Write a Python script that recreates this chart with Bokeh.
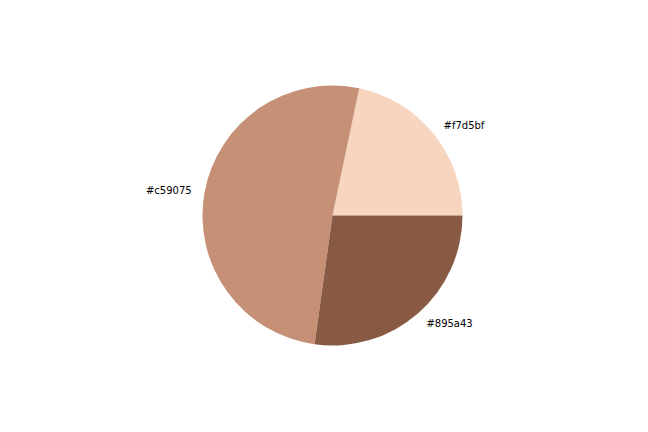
import numpy as np
from bokeh.plotting import figure
from bokeh.models import ColumnDataSource
from bokeh.core.properties import value
from bokeh.embed import file_html
from bokeh.resources import INLINE

labels = ["#f7d5bf", "#c59075", "#895a43"]
values = [21.7, 51.1, 27.2]
colors = ["#f7d5bf", "#c59075", "#895a43"]

W, H = 648, 432
cx_px, cy_px, r_px = 332, 215, 130

vals = np.array(values, dtype=float)
frac = vals / vals.sum()
ends = np.cumsum(frac) * 2 * np.pi
starts = np.concatenate([[0.0], ends[:-1]])
mids = (starts + ends) / 2
lx = 1.1 * np.cos(mids)
ly = 1.1 * np.sin(mids)
align = ["left" if x >= 0 else "right" for x in lx]

src = ColumnDataSource(dict(start=starts, end=ends, color=colors))
lsrc = ColumnDataSource(dict(x=lx, y=ly, text=labels, align=align))

p = figure(width=W, height=H, output_backend="svg", toolbar_location=None,
           x_range=(-cx_px / r_px, (W - cx_px) / r_px),
           y_range=(-(H - cy_px) / r_px, cy_px / r_px),
           min_border=0, outline_line_color=None)
p.axis.visible = False
p.grid.visible = False
p.background_fill_color = "white"

p.wedge(x=0, y=0, radius=1.0, start_angle="start", end_angle="end",
        fill_color="color", line_color=None, source=src)
p.text(x="x", y="y", text="text", text_align="align", text_baseline="middle",
       text_font=value("DejaVu Sans"), text_font_size="10px", text_color="black",
       source=lsrc)

open("out.html", "w").write(file_html(p, INLINE))
